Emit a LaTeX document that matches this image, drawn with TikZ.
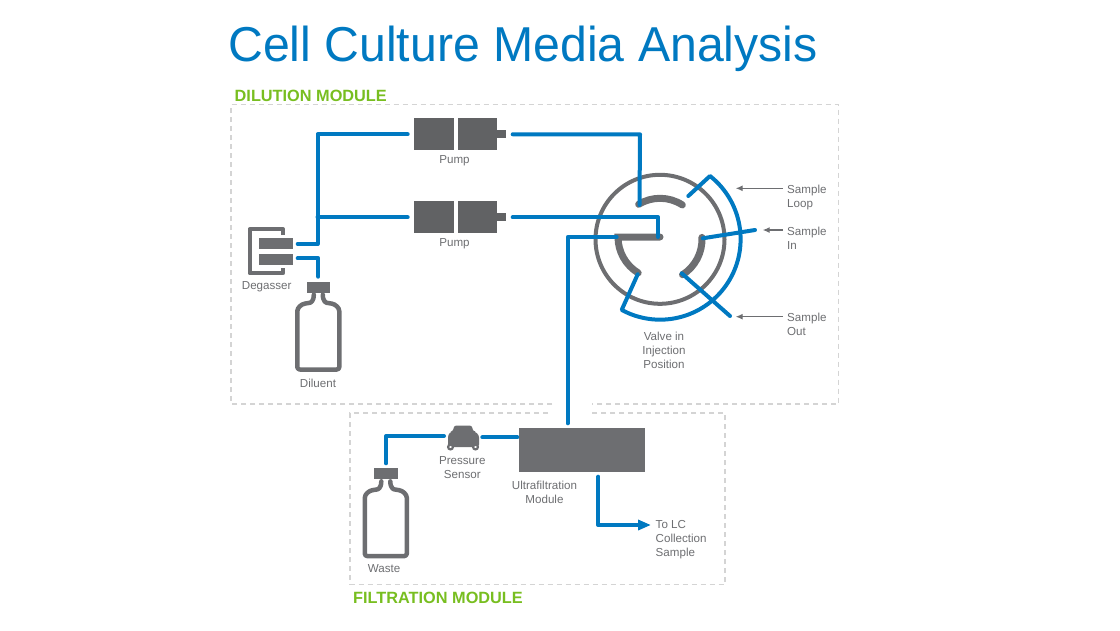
\documentclass[tikz,border=0pt]{standalone}
\usepackage{fontspec}
\setmainfont{Liberation Sans}
\newfontfamily\titlefont[FakeStretch=0.984]{Liberation Sans}
\usetikzlibrary{arrows.meta,calc}
\definecolor{flow}{HTML}{0079C1}
\definecolor{dev}{HTML}{6D6E71}
\definecolor{devd}{HTML}{616264}
\definecolor{mod}{HTML}{78BE20}
\definecolor{dashc}{HTML}{D4D4D4}
\definecolor{titlec}{HTML}{0079C1}
\tikzset{
  x=1pt,y=-1pt,
  pipe/.style={draw=flow,line width=4pt,line cap=round,line join=round},
  tube/.style={draw=dev,line width=7pt,line cap=round},
  ring/.style={draw=dev,line width=4pt},
  block/.style={fill=devd,draw=none,inner sep=0pt,outer sep=0pt},
  lbl/.style={text=dev,inner sep=0pt,align=center,font=\fontsize{11.6}{14}\selectfont},
  lbll/.style={lbl,align=left},
  modlbl/.style={text=mod,inner sep=0pt,anchor=base west,font=\fontsize{16.3}{18}\selectfont\bfseries},
  dashbox/.style={draw=dashc,line width=1.2pt,dash pattern=on 5pt off 4pt},
  callout/.style={draw=dev,line width=1.2pt,-{Latex[length=7pt,width=6pt]}},
  bottle/.pic={
    \node[block,fill=dev,minimum width=23.4pt,minimum height=11pt] (-cap) at (0,5.5) {};
    \draw[dev,line width=4.5pt,line join=round,line cap=round,rounded corners=2.5pt]
      (-4.5,13) .. controls (-4.5,20) and (-8,21) .. (-11,21.5)
      .. controls (-17,22.5) and (-21,26) .. (-21,32)
      -- (-21,87.8) -- (21,87.8) -- (21,32)
      .. controls (21,26) and (17,22.5) .. (11,21.5)
      .. controls (8,21) and (4.5,20) .. (4.5,13);
  }
}
\begin{document}
\begin{tikzpicture}
\useasboundingbox (0,0) rectangle (1120,630);
% title and module labels
\node[text=titlec,inner sep=0pt,anchor=base west,font=\titlefont\fontsize{49}{56}\selectfont] (title) at (228,61) {Cell Culture Media Analysis};
\node[modlbl] (dillbl) at (234.5,101.7) {DILUTION MODULE};
\node[modlbl] (fillbl) at (353,603) {FILTRATION MODULE};
% module frames
\draw[dashbox] (552,404) -- (231,404) -- (231,104.5) -- (838.5,104.5) -- (838.5,404) -- (592,404);
\draw[dashbox] (548,413) -- (350,413) -- (350,584.5) -- (725,584.5) -- (725,413) -- (592,413);
% pumps
\foreach \n/\y in {a/118.3,b/201.3}{
  \node[block,anchor=north west,minimum width=40pt,minimum height=31.7pt] (pump\n L) at (414.3,\y) {};
  \node[block,anchor=north west,minimum width=39.6pt,minimum height=31.7pt] (pump\n R) at (457.7,\y) {};
  \node[block,anchor=west,minimum width=8.4pt,minimum height=8pt] (pump\n N) at (pump\n R.east) {};
}
\node[lbl] (pumpaT) at (454.5,161) {Pump};
\node[lbl] (pumpbT) at (454.5,244) {Pump};
% degasser
\node[block,fill=dev,anchor=north west,minimum width=33.4pt,minimum height=11pt] (dega) at (259.3,238.3) {};
\node[block,fill=dev,anchor=north west,minimum width=33.4pt,minimum height=10.7pt] (degb) at (259.3,254) {};
\draw[dev,line width=4pt,line cap=butt,line join=round] (283,235) -- (283,229.3) -- (249.5,229.3) -- (249.5,273.3) -- (283,273.3) -- (283,267.5);
\node[lbl] (degT) at (266.7,286.3) {Degasser};
% bottles
\pic (dil) at (318.3,281.7) {bottle};
\node[lbl] (dilT) at (318,383) {Diluent};
\pic (was) at (385.8,468.3) {bottle};
\node[lbl] (wasT) at (384,569) {Waste};
% ultrafiltration
\node[block,fill=dev,anchor=north west,minimum width=125.7pt,minimum height=44.6pt] (uf) at (519.3,427.7) {};
\node[lbl] (ufT) at (544.5,492.4) {Ultrafiltration\\Module};
% pressure sensor
\node[inner sep=0pt,minimum width=31.6pt,minimum height=24pt] (ps) at (463,437) {};
\fill[dev,rounded corners=2.5pt] (448,447) -- (448,435) -- (451,431.5) -- (453,431.5) -- (454,425.5) -- (472,425.5) -- (473,431.5) -- (475,431.5) -- (479,435) -- (479,447) -- cycle;
\foreach \x in {450.5,475.5}{
  \filldraw[draw=dev,fill=white,line width=2.2pt] (\x,447) circle (2.4pt);
}
\node[lbl] (psT) at (462.3,467.6) {Pressure\\Sensor};
% valve
\node[ring,circle,inner sep=0pt,minimum size=129pt] (valve) at (660,239.3) {};
\node[lbl] (valT) at (664,350) {Valve in\\Injection\\Position};
\coordinate (c) at (660,239.3);
\draw[tube] ($(c)+(121.4:41pt)$) arc[start angle=121.4,end angle=57,radius=41pt];
\draw[tube] ($(c)+(2.6:42pt)$) arc[start angle=2.6,end angle=-57.5,radius=42pt];
\draw[tube] (660,237) -- (618,237) arc[start angle=180,end angle=238.7,radius=42pt];
% valve port coordinates
\coordinate (ptop) at (639.5,205);
\coordinate (pbar) at (658,237);
\coordinate (pbarl) at (616.7,237);
\coordinate (pin) at (702.7,238.3);
\coordinate (pout) at (681.7,273.3);
\coordinate (ploopa) at (688.3,196);
\coordinate (ploopb) at (637.7,274.3);
\coordinate (loopa) at (710,176);
\coordinate (sin) at (755,230);
\coordinate (sout) at (730,316);
% pipes
\coordinate (j) at (317.5,217.3);
\draw[pipe] (297.7,244) -- (317.5,244) -- (317.5,134.3) -- (407.7,134.3);
\draw[pipe] (j) -- (407.7,217.3);
\draw[pipe] (297.7,258.3) -- (318.3,258.3) -- (318.3,276.7);
\draw[pipe] (512.7,134.3) -- (640,134.3) -- (ptop);
\draw[pipe] (512.7,217.3) -- (658,217.3) -- (pbar);
\draw[pipe] (567.7,423.3) -- (567.7,237) -- (pbarl);
\draw[pipe] (pin) -- (sin);
\draw[pipe] (pout) -- (sout);
\draw[pipe] (ploopa) -- (loopa) arc[start angle=51.7,end angle=-118.5,radius=80.5pt] -- (ploopb);
\draw[pipe] (386,463.3) -- (386,436) -- (444,436);
\draw[pipe] (482.3,437.3) -- (517.3,437.3);
\draw[pipe,-{Triangle[length=13pt,width=10pt]}] (598.3,476.7) -- (598.3,525) -- (651,525);
% callouts
\node[lbll,anchor=west] (sl) at (787,197) {Sample\\Loop};
\node[lbll,anchor=west] (si) at (787,238) {Sample\\In};
\node[lbll,anchor=west] (so) at (787,324) {Sample\\Out};
\coordinate (sla) at (783,188.3);
\coordinate (slb) at (735.7,188.3);
\coordinate (sia) at (783,230);
\coordinate (sib) at (762.7,230);
\coordinate (soa) at (783,316.7);
\coordinate (sob) at (735.7,316.7);
\draw[callout] (sla) -- (slb);
\draw[callout] (sia) -- (sib);
\draw[callout] (soa) -- (sob);
\node[lbll,anchor=west] (lc) at (655.5,539.2) {To LC\\Collection\\Sample};
\end{tikzpicture}
\end{document}
